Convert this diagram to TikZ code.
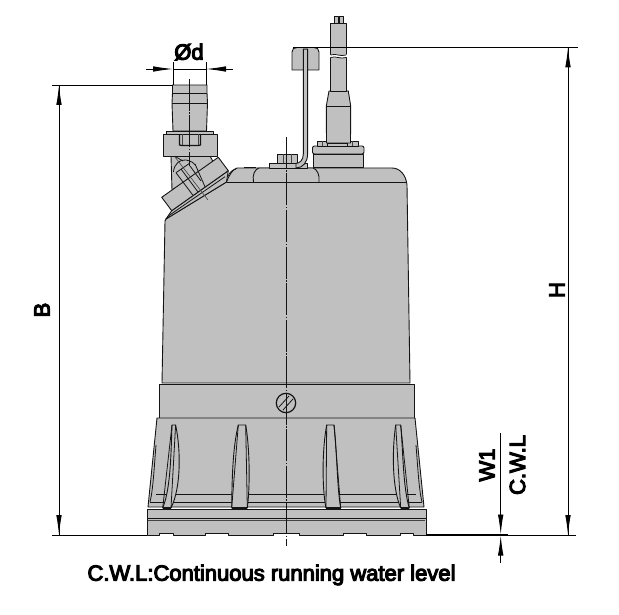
\documentclass[tikz,border=0pt]{standalone}
\usepackage{fontspec}
\usepackage{xcolor}
\usepackage{tikz}
\usetikzlibrary{arrows.meta}
\newfontfamily\labelfont[FakeBold=5]{Liberation Sans}
\definecolor{pumpgray}{HTML}{C0C0C0}
\definecolor{pumpline}{HTML}{141414}
\tikzset{
  part/.style={fill=pumpgray,draw=pumpline,line width=.9pt,line join=round},
  edge/.style={draw=pumpline,line width=.8pt},
  thinedge/.style={draw=pumpline!80!white,line width=.6pt},
  axis/.style={draw=pumpline,line width=.6pt,dash pattern=on 32pt off 1.5pt on 1.5pt off 1.5pt},
  dimline/.style={draw=black,line width=.85pt},
  dimtip/.style={-{Latex[length=20pt,width=5.5pt]}},
  dimlabel/.style={inner sep=0pt,font=\labelfont\fontsize{22}{24}\selectfont},
}
% tl tr bl br = x at top and bottom, cl cr = x of the curve controls
\newcommand{\rib}[6]{
  \draw[part] (#1,425) .. controls (#5,450) and (#5,488) .. (#3,508) -- (#4,508) .. controls (#6,488) and (#6,450) .. (#2,425) -- cycle;
  \draw[edge] (#1,425) -- (#3,508);
  \draw[edge] (#2,425) -- (#4,508);
  \draw[draw=pumpline,line width=1.6pt] (#3,508) -- (#4,508);
}
\newcommand{\nut}[4]{\draw[part] (#1,#2) rectangle (#3,#4);}
\begin{document}
\begin{tikzpicture}[x=1pt,y=-1pt]
  \useasboundingbox (0,0) rectangle (619,615);

  % outlet
  \draw[part] (171,156) -- (172,190) -- (215,165) -- (210,156) -- cycle;
  \draw[edge] (176,157) -- (183,161);
  \draw[edge] (173.5,172) .. controls (174,164) and (180,159) .. (186,160) .. controls (191,161) and (194,163) .. (195,165);
  \draw[part] (172.5,85) -- (172.5,93) -- (172,103) -- (173,131) -- (206.5,131) -- (207.5,103) -- (207,93) -- (207,85) -- cycle;
  \draw[edge] (172.5,93) -- (207,93);
  \draw[edge] (172,103) -- (207.5,103);
  \draw[part] (166,131) rectangle (213,134);
  \draw[part] (163,134) rectangle (217,156);
  \draw[draw=pumpline,line width=1.2pt] (179.5,134.5) -- (179.5,145) -- (182,145.5) -- (198,145.5) -- (200.5,145) -- (200.5,134.5);
  \draw[thinedge] (182,134.5) -- (182,145);
  \draw[thinedge] (198,134.5) -- (198,145);

  % body
  \draw[part] (165,221) -- (162,383) -- (410,383) -- (407,185) .. controls (406,175) and (400,168) .. (392,168) -- (237,168) .. controls (233,169) and (229,175) .. (226.5,182) -- (166,219) -- cycle;
  \draw[edge] (227,182) -- (407,182);
  \draw[part] (166,219) -- (171.7,210.7) -- (228.3,170.7) -- (226.5,182) -- cycle;
  \draw[edge] (228,176) .. controls (230,172) and (232,170) .. (236,169);
  \draw[part] (161.7,197.3) -- (218.3,157.3) -- (228.3,170.7) -- (171.7,210.7) -- cycle;
  \draw[edge] (167.3,216.7) -- (225,176.7);
  \draw[edge] (176,172.7) -- (192.7,195);
  \draw[edge] (181,169) -- (198,192);
  \draw[edge] (190,166) -- (201,181);
  \draw[edge] (195,164) -- (205,186.7);
  \draw[edge] (176,172.7) -- (190,163);
  \draw[thinedge] (175,157) -- (208,200);

  % band, skirt and base
  \draw[part] (159,384) rectangle (414,418);
  \draw[part] (157,418) -- (415,418) -- (424,507) -- (148,507) -- cycle;
  \draw[edge] (156,494) -- (416,494);
  \draw[edge] (150,502.5) -- (422,502.5);
  \draw[edge] (156,445) .. controls (154,470) and (153,490) .. (150,502);
  \draw[edge] (416,445) .. controls (418,470) and (419,490) .. (422,502);
  \rib{172}{175.6}{162.7}{171}{171}{181}
  \rib{238.3}{245.7}{231.7}{247.3}{232}{250}
  \rib{326.7}{334}{326}{340.7}{322}{337}
  \rib{395.7}{400.7}{400.7}{409.3}{392}{403}
  \draw[part] (147,509) rectangle (426,518);
  \draw[part] (147,518) -- (426,518) -- (426,535) -- (413,535) -- (413,533) -- (400,533) -- (400,535) -- (366,535) -- (366,533) -- (343,533) -- (343,535) -- (299,535) -- (299,533) -- (273,533) -- (273,535) -- (228,535) -- (228,533) -- (205,533) -- (205,535) -- (173,535) -- (173,533) -- (159,533) -- (159,535) -- (147,535) -- cycle;
  \draw[thinedge] (148,520.5) -- (425,520.5);

  % plug on the band
  \draw[part,line width=1.2pt] (286,403) circle (9.7);
  \draw[edge] (279,407) -- (289,396);
  \draw[edge] (283,410) -- (293,399);

  % handle and bolt
  \draw[part] (253.5,182) .. controls (252,175) and (255,169) .. (259,168) -- (313,168) .. controls (317,169) and (320,175) .. (319,182);
  \draw[edge] (244,167) -- (256,167);
  \nut{269}{163}{307}{168}
  \nut{277}{154}{297}{163}
  \draw[thinedge] (283,154) -- (283,163);
  \draw[thinedge] (291,154) -- (291,163);
  \draw[part] (303.3,49) -- (303.3,154) .. controls (303.3,160) and (300,163) .. (296,163.5) -- (296,168) .. controls (303,168) and (307.6,162) .. (307.6,154) -- (307.6,49) -- cycle;
  \draw[part] (292,70) -- (292,52) .. controls (292,49) and (294,47.5) .. (297,47.5) -- (314,47.5) .. controls (317,47.5) and (319,49) .. (319,52) -- (319,70) -- (307.6,70) -- (307.6,49) -- (303.3,49) -- (303.3,70) -- cycle;

  % cable
  \draw[part] (334,16) rectangle (338,23);
  \draw[part] (339.5,16) rectangle (343.5,23);
  \draw[part] (313,154) rectangle (363,167);
  \draw[part,rounded corners=2pt] (312.5,146) rectangle (364,154);
  \draw[part] (326,143) rectangle (351,146);
  \nut{317}{141}{327}{146}
  \nut{347}{141}{358}{146}
  \draw[thinedge] (322,141) -- (322,146);
  \draw[thinedge] (352,141) -- (352,146);
  \draw[part] (329,91) -- (348.3,91) -- (350.7,106) -- (350.5,143) -- (326.5,143) -- (326.3,106) -- cycle;
  \draw[edge] (326.3,106) -- (350.7,106);
  \draw[part] (330.7,23) rectangle (346,91);
  \fill[white] (330,55) .. controls (336,53) and (340,57) .. (347,54.5) -- (347,57) .. controls (340,59.5) and (336,55.5) .. (330,57.5) -- cycle;
  \draw[edge] (330.7,55) .. controls (336,53) and (340,57) .. (346,55);
  \draw[edge] (330.7,57.5) .. controls (336,55.5) and (340,59.5) .. (346,57.5);

  % center lines
  \draw[axis] (286,137) -- (286,546);
  \draw[axis] (189.7,79) -- (189.7,166);

  % dimensions
  \coordinate (groundL) at (52,535);
  \coordinate (baseL) at (147,535);
  \coordinate (baseR) at (426,535);
  \coordinate (groundM) at (508,535);
  \coordinate (groundR) at (576,535);
  \coordinate (topB) at (52,85);
  \coordinate (nozzleL) at (173,85);
  \coordinate (nozzleR) at (206,85);
  \coordinate (extL) at (173,62);
  \coordinate (extR) at (206,62);
  \coordinate (topH) at (293,47.3);
  \coordinate (endH) at (578,47.3);
  \coordinate (tipB) at (59,85);
  \coordinate (footB) at (59,535);
  \coordinate (tipH) at (568,47.3);
  \coordinate (footH) at (568,535);
  \coordinate (startW) at (500.7,433);
  \coordinate (tipW) at (500.7,534.5);
  \coordinate (endW) at (500.7,563);
  \coordinate (tipWb) at (500.7,535.5);
  \coordinate (startd) at (146,69);
  \coordinate (tipdL) at (173,69);
  \coordinate (enddR) at (233,69);
  \coordinate (tipdR) at (206,69);

  \draw[dimline] (groundL) -- (baseL);
  \draw[dimline,line width=1.2pt] (baseR) -- (groundM);
  \draw[dimline] (groundM) -- (groundR);
  \draw[dimline] (topB) -- (nozzleL);
  \draw[dimline] (topH) -- (endH);
  \draw[dimline,dimtip] (footB) -- (tipB);
  \draw[dimline,dimtip] (tipB) -- (footB);
  \draw[dimline,dimtip] (footH) -- (tipH);
  \draw[dimline,dimtip] (tipH) -- (footH);
  \draw[dimline,dimtip] (startW) -- (tipW);
  \draw[dimline,dimtip] (endW) -- (tipWb);
  \draw[dimline,dimtip] (startd) -- (tipdL);
  \draw[dimline,dimtip] (enddR) -- (tipdR);
  \draw[dimline] (tipdL) -- (tipdR);
  \draw[dimline] (extL) -- (nozzleL);
  \draw[dimline] (extR) -- (nozzleR);

  \node[dimlabel] (dlabel) at (189,52) {Ød};
  \node[dimlabel,rotate=90] (blabel) at (42,310) {B};
  \node[dimlabel,rotate=90] (hlabel) at (557,290) {H};
  \node[dimlabel,rotate=90] (wlabel) at (487,465) {W1};
  \node[dimlabel,rotate=90] (cwllabel) at (517.5,465) {C.W.L};
  \node[dimlabel] (notelabel) at (271.5,575) {C.W.L:Continuous running water level};
\end{tikzpicture}
\end{document}
